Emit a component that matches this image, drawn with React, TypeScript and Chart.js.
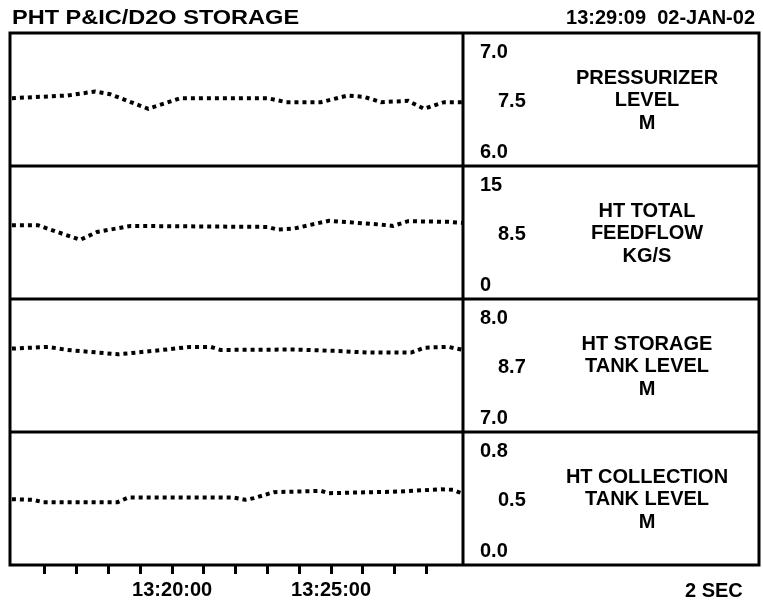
import React, { useEffect, useRef } from "react";
import { Chart, registerables } from "chart.js";

Chart.register(...registerables);

// ---- header / footer text ----
const TITLE = "PHT P&IC/D2O STORAGE";
const TIMESTAMP = "13:29:09  02-JAN-02";
const SAMPLE_NOTE = "2 SEC";

// ---- time axis (minutes after 13:00) ----
const X_MIN = 14.9;
const X_MAX = 29.15;
const TICK_MINUTES = [16, 17, 18, 19, 20, 21, 22, 23, 24, 25, 26, 27, 28];
const TICK_LABELS: Record<number, string> = { 20: "13:20:00", 25: "13:25:00" };

// ---- panel descriptions ----
const PANEL_TITLES = [
  ["PRESSURIZER", "LEVEL", "M"],
  ["HT TOTAL", "FEEDFLOW", "KG/S"],
  ["HT STORAGE", "TANK LEVEL", "M"],
  ["HT COLLECTION", "TANK LEVEL", "M"],
];
const PANEL_SCALE_LABELS = [
  ["7.0", "7.5", "6.0"],
  ["15", "8.5", "0"],
  ["8.0", "8.7", "7.0"],
  ["0.8", "0.5", "0.0"],
];
const PANEL_MIN = [6.0, 0, 7.0, 0.0];
const PANEL_MAX = [7.0, 15, 8.0, 0.8];

// ---- series ----
const PRESSURIZER_TIME = [14.96, 16.7, 17.58, 18.05, 19.25, 20.26, 23.01, 23.58, 24.68, 25.53, 26.04, 26.57, 27.42, 27.93, 28.56, 29.16];
const PRESSURIZER_LEVEL = [6.51, 6.53, 6.56, 6.54, 6.43, 6.51, 6.51, 6.48, 6.48, 6.53, 6.52, 6.48, 6.49, 6.43, 6.48, 6.48];

const FEEDFLOW_TIME = [14.96, 15.78, 16.32, 17.11, 17.64, 18.69, 23.01, 23.32, 23.83, 24.93, 26.57, 26.95, 27.42, 28.69, 29.16];
const FEEDFLOW = [8.32, 8.32, 7.64, 6.68, 7.56, 8.24, 8.13, 7.82, 7.94, 8.82, 8.39, 8.24, 8.78, 8.7, 8.59];

const STORAGE_TIME = [14.96, 16.1, 16.7, 18.31, 19.41, 20.58, 21.21, 21.52, 23.83, 25.09, 26.16, 27.52, 27.93, 28.69, 29.1];
const STORAGE_LEVEL = [7.627, 7.64, 7.617, 7.584, 7.61, 7.64, 7.64, 7.617, 7.62, 7.61, 7.597, 7.597, 7.634, 7.64, 7.62];

const COLLECTION_TIME = [14.96, 15.63, 15.94, 18.28, 18.62, 21.93, 22.31, 22.57, 23.2, 24.68, 24.93, 27.2, 28.46, 28.84, 29.1];
const COLLECTION_LEVEL = [0.396, 0.392, 0.378, 0.378, 0.406, 0.406, 0.392, 0.402, 0.438, 0.446, 0.432, 0.442, 0.456, 0.452, 0.432];

const SERIES = [
  [PRESSURIZER_TIME, PRESSURIZER_LEVEL],
  [FEEDFLOW_TIME, FEEDFLOW],
  [STORAGE_TIME, STORAGE_LEVEL],
  [COLLECTION_TIME, COLLECTION_LEVEL],
];

const FONT = "'Liberation Sans', Arial, sans-serif";
const BOX_RIGHT = 759;

const panelPlugin = {
  id: "panelDecor",
  afterDraw(chart: any) {
    const ctx = chart.ctx as CanvasRenderingContext2D;
    const ca = chart.chartArea;
    ctx.save();
    ctx.fillStyle = "#000";
    ctx.strokeStyle = "#000";
    ctx.lineWidth = 3;

    // outer frame + divider
    ctx.strokeRect(ca.left, ca.top, BOX_RIGHT - ca.left, ca.bottom - ca.top);
    ctx.beginPath();
    ctx.moveTo(ca.right, ca.top);
    ctx.lineTo(ca.right, ca.bottom);
    for (let i = 1; i < 4; i++) {
      const y = chart.scales["y" + i].top;
      ctx.moveTo(ca.left, y);
      ctx.lineTo(BOX_RIGHT, y);
    }
    ctx.stroke();

    ctx.font = `bold 20px ${FONT}`;
    ctx.textBaseline = "alphabetic";
    const capHalf = 7.2;
    for (let i = 0; i < 4; i++) {
      const sc = chart.scales["y" + i];
      const top = sc.top;
      const bottom = sc.bottom;
      const mid = (top + bottom) / 2;
      const sl = PANEL_SCALE_LABELS[i];
      ctx.textAlign = "left";
      ctx.fillText(sl[0], ca.right + 17, top + 17.5 + capHalf);
      ctx.fillText(sl[1], ca.right + 35, mid + capHalf);
      ctx.fillText(sl[2], ca.right + 17, bottom - 15.5 + capHalf);
      ctx.textAlign = "center";
      PANEL_TITLES[i].forEach((t, k) => {
        ctx.fillText(t, 647, mid - 0.5 + (k - 1) * 22.5 + capHalf);
      });
    }

    // header
    ctx.textAlign = "left";
    ctx.save();
    ctx.font = `bold 21px ${FONT}`;
    ctx.translate(12, 24);
    ctx.scale(1.12, 1);
    ctx.fillText(TITLE, 0, 0);
    ctx.restore();
    ctx.textAlign = "right";
    ctx.fillText(TIMESTAMP, 755, 24);

    // footer
    ctx.textAlign = "left";
    ctx.fillText(SAMPLE_NOTE, 685, 597);
    ctx.restore();
  },
};

export default function App() {
  const ref = useRef<HTMLCanvasElement | null>(null);

  useEffect(() => {
    if (!ref.current) return;
    const datasets = SERIES.map(([t, v], i) => ({
      data: t.map((x, j) => ({ x, y: v[j] })),
      yAxisID: "y" + i,
      borderColor: "#000",
      borderWidth: 4,
      borderDash: [4, 4],
      borderCapStyle: "butt" as const,
      pointRadius: 0,
      tension: 0,
      fill: false,
    }));

    const yScales: any = {};
    for (let i = 0; i < 4; i++) {
      yScales["y" + i] = {
        type: "linear",
        position: "right",
        stack: "panels",
        stackWeight: 1,
        offset: false,
        min: PANEL_MIN[i],
        max: PANEL_MAX[i],
        display: false,
      };
    }

    const chart = new Chart(ref.current, {
      type: "line",
      data: { datasets },
      options: {
        animation: false,
        responsive: false,
        events: [],
        layout: { padding: { top: 33, left: 10, right: 300, bottom: 0 } },
        plugins: { legend: { display: false }, tooltip: { enabled: false } },
        scales: {
          x: {
            type: "linear",
            min: X_MIN,
            max: X_MAX,
            afterBuildTicks: (scale: any) => {
              scale.ticks = TICK_MINUTES.map((v) => ({ value: v }));
            },
            afterFit: (scale: any) => {
              scale.height = 38;
            },
            border: { display: false },
            grid: {
              drawOnChartArea: false,
              drawTicks: true,
              tickLength: 9,
              color: "#000",
              lineWidth: 3,
            },
            ticks: {
              autoSkip: false,
              maxRotation: 0,
              padding: 4,
              color: "#000",
              font: { family: FONT, size: 20, weight: "bold" },
              callback: (v: any) => TICK_LABELS[Number(v)] ?? "",
            },
          },
          ...yScales,
        },
      },
      plugins: [panelPlugin],
    });
    return () => chart.destroy();
  }, []);

  return (
    <div style={{ position: "absolute", left: 0, top: 0, width: 763, height: 603, background: "#fff" }}>
      <canvas ref={ref} width={763} height={603} style={{ display: "block" }} />
    </div>
  );
}
